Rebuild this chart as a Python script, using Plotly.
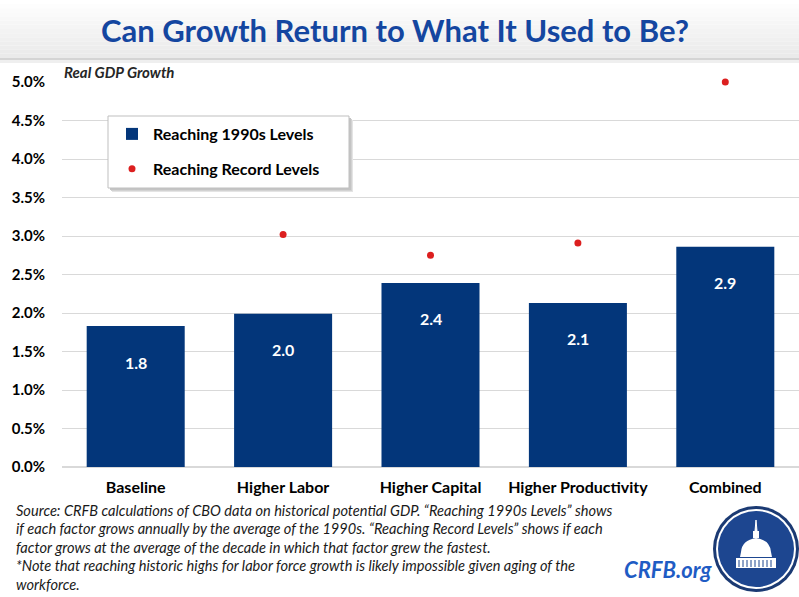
import plotly.graph_objects as go

categories = ["Baseline", "Higher Labor", "Higher Capital", "Higher Productivity", "Combined"]
nineties = [1.83, 1.99, 2.39, 2.13, 2.86]
nineties_labels = ["1.8", "2.0", "2.4", "2.1", "2.9"]
record = [None, 3.02, 2.75, 2.91, 5.00]
tick_vals = [0, 0.5, 1.0, 1.5, 2.0, 2.5, 3.0, 3.5, 4.0, 4.5, 5.0]
tick_text = ["0.0%", "0.5%", "1.0%", "1.5%", "2.0%", "2.5%", "3.0%", "3.5%", "4.0%", "4.5%", "5.0%"]
foot_lines = [
    "Source: CRFB calculations of CBO data on historical potential GDP. \u201cReaching 1990s Levels\u201d shows",
    "if each factor grows annually by the average of the 1990s. \u201cReaching Record Levels\u201d shows if each",
    "factor grows at the average of the decade in which that factor grew the fastest.",
    "*Note that reaching historic highs for labor force growth is likely impossible given aging of the",
    "workforce.",
]

W, H = 799, 597
L, R, T, B = 62, 0, 82, 130
PW, PH = W - L - R, H - T - B

def px(x):
    return (x - L) / PW

def py(y):
    return (H - B - y) / PH

NAVY = "#03367a"
RED = "#dc1f1f"
FONT = "Lato"

fig = go.Figure()
fig.add_trace(go.Bar(
    x=categories, y=nineties, name="Reaching 1990s Levels",
    marker=dict(color=NAVY, line=dict(width=0)),
    legendgroup="a", hoverinfo="skip",
))
fig.add_trace(go.Scatter(
    x=categories, y=record, name="Reaching Record Levels", mode="markers",
    marker=dict(color=RED, size=7), cliponaxis=False,
    legendgroup="b", hoverinfo="skip",
))

annotations = []
for c, v, t in zip(categories, nineties, nineties_labels):
    annotations.append(dict(x=c, y=v, xref="x", yref="y", text=f"<b>{t}</b>",
                            showarrow=False, yshift=-36,
                            font=dict(family=FONT, size=16, color="white")))

annotations.append(dict(x=0, y=5.0, xref="paper", yref="y", xanchor="left", yanchor="bottom",
                        text="<b><i>Real GDP Growth</i></b>", showarrow=False, yshift=-1,
                        font=dict(family=FONT, size=15, color="#262626")))

annotations.append(dict(x=px(395), y=py(30), xref="paper", yref="paper", xanchor="center", yanchor="middle",
                        text="<b>Can Growth Return to What It Used to Be?</b>", showarrow=False,
                        font=dict(family=FONT, size=31, color="#1446a0")))

for i, line in enumerate(foot_lines):
    annotations.append(dict(x=px(14), y=py(510 + i * 18.5), xref="paper", yref="paper",
                            xanchor="left", yanchor="middle", align="left",
                            text=f"<i>{line}</i>", showarrow=False,
                            font=dict(family=FONT, size=14.6, color="#1a1a1a")))

annotations.append(dict(x=px(668), y=py(569), xref="paper", yref="paper", xanchor="center", yanchor="middle",
                        text="<b><i>CRFB.org</i></b>", showarrow=False,
                        font=dict(family=FONT, size=22, color="#1f5cc4")))

shapes = []
# header gradient
n = 14
top, bot = 0, 58
for i in range(n):
    y0 = top + (bot - top) * i / n
    y1 = top + (bot - top) * (i + 1) / n
    g = int(255 - (255 - 234) * (i / (n - 1)))
    shapes.append(dict(type="rect", xref="paper", yref="paper", x0=px(0), x1=px(W),
                       y0=py(y1), y1=py(y0), fillcolor=f"rgb({g},{g},{g})",
                       line=dict(width=0), layer="below"))
shapes.append(dict(type="rect", xref="paper", yref="paper", x0=px(0), x1=px(W),
                   y0=py(60), y1=py(58), fillcolor="#d4d4d4", line=dict(width=0), layer="below"))
shapes.append(dict(type="rect", xref="paper", yref="paper", x0=px(0), x1=px(W),
                   y0=py(63), y1=py(60), fillcolor="#efefef", line=dict(width=0), layer="below"))

# logo
cx, cy = 756, 549
def circ(r, fill):
    return dict(type="circle", xref="paper", yref="paper", x0=px(cx - r), x1=px(cx + r),
                y0=py(cy + r), y1=py(cy - r), fillcolor=fill,
                line=dict(width=0), layer="above")
shapes.append(circ(43, "#1b3a73"))
shapes.append(circ(40, "white"))
shapes.append(circ(38, "#1d4690"))
def P(x, y):
    return f"{px(x)},{py(y)}"
dome = (f"M {P(740,557)} L {P(741,552)} Q {P(742,540)} {P(756,538)} Q {P(770,540)} {P(771,552)} "
        f"L {P(772,557)} Z")
shapes.append(dict(type="path", xref="paper", yref="paper", path=dome, fillcolor="white",
                   line=dict(width=0), layer="above"))
shapes.append(dict(type="rect", xref="paper", yref="paper", x0=px(736), x1=px(776), y0=py(568), y1=py(558),
                   fillcolor="white", line=dict(width=0), layer="above"))
shapes.append(dict(type="rect", xref="paper", yref="paper", x0=px(753), x1=px(759), y0=py(538), y1=py(531),
                   fillcolor="white", line=dict(width=0), layer="above"))
shapes.append(dict(type="path", xref="paper", yref="paper",
                   path=f"M {P(755,531)} L {P(756,520)} L {P(757,531)} Z",
                   fillcolor="white", line=dict(width=1, color="white"), layer="above"))
for xx in range(739, 775, 4):
    shapes.append(dict(type="line", xref="paper", yref="paper", x0=px(xx), x1=px(xx), y0=py(567), y1=py(560),
                       line=dict(color="#1d4690", width=1), layer="above"))
# legend box with soft shadow
for off, col in [(4, "#e4e4e4"), (3, "#d2d2d2"), (2, "#c4c4c4")]:
    shapes.append(dict(type="rect", xref="paper", yref="paper", x0=px(108 + off), x1=px(349 + off),
                       y0=py(188 + off), y1=py(116 + off), fillcolor=col, line=dict(width=0), layer="above"))
shapes.append(dict(type="rect", xref="paper", yref="paper", x0=px(108), x1=px(349),
                   y0=py(188), y1=py(116), fillcolor="white", line=dict(width=1, color="#bfbfbf"),
                   layer="above"))

fig.update_layout(
    width=W, height=H,
    margin=dict(l=L, r=R, t=T, b=B, autoexpand=False),
    paper_bgcolor="white", plot_bgcolor="white",
    bargap=0.335,
    font=dict(family=FONT, color="black"),
    showlegend=True,
    legend=dict(x=px(111), y=py(117), xanchor="left", yanchor="top",
                bgcolor="rgba(0,0,0,0)", borderwidth=0,
                font=dict(family=FONT, size=16, color="black", weight="bold"),
                tracegroupgap=11, traceorder="grouped",
                itemwidth=32),
    xaxis=dict(showgrid=False, showline=False, ticks="", tickfont=dict(size=16, weight="bold"),
               ticklabelstandoff=9),
    yaxis=dict(range=[0, 5.0], tickvals=tick_vals, ticktext=tick_text,
               showgrid=True, gridcolor="#d9d9d9", gridwidth=1, zeroline=True,
               zerolinecolor="#d9d9d9", showline=False, ticks="",
               tickfont=dict(size=15, weight="bold"), ticklabelstandoff=16),
    annotations=annotations,
    shapes=shapes,
)

fig.write_html("out.html", config={"displayModeBar": False},
               post_script="document.body.style.margin='0px';")
